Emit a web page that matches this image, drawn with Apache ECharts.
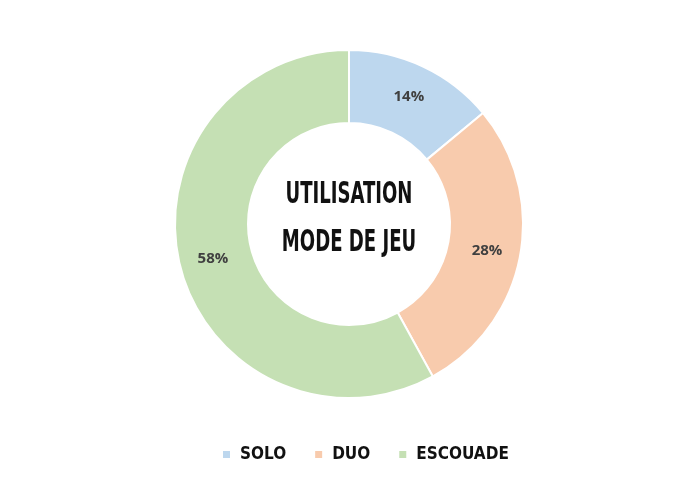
<!DOCTYPE html>
<html>
<head>
<meta charset="utf-8">
<script src="https://cdn.jsdelivr.net/npm/echarts@6/dist/echarts.min.js"></script>
<style>
html,body{margin:0;padding:0;background:#fff;}
#c{width:700px;height:480px;}
</style>
</head>
<body>
<div id="c"></div>
<script>
const categories = ['SOLO', 'DUO', 'ESCOUADE'];
const values = [14, 28, 58];
const colors = ['#bdd7ee', '#f8cbad', '#c5e0b4'];
const centerLines = ['UTILISATION', 'MODE DE JEU'];

const narrow = '"Liberation Sans Narrow", "DejaVu Sans Condensed", sans-serif';
const chart = echarts.init(document.getElementById('c'));
chart.setOption({
  backgroundColor: '#fff',
  animation: false,
  color: colors,
  legend: {
    data: categories,
    bottom: 17,
    left: 221,
    padding: 0,
    icon: 'rect',
    itemWidth: 9,
    itemHeight: 9,
    itemGap: 27,
    textStyle: {
      fontFamily: narrow,
      fontWeight: 'bold',
      fontSize: 17,
      color: '#111',
      padding: [0, 0, 0, 4]
    }
  },
  graphic: [
    {
      type: 'text',
      x: 349, y: 195,
      scaleX: 0.67,
      style: {
        text: centerLines[0],
        fill: '#111',
        font: 'bold 30px ' + narrow,
        textAlign: 'center',
        textVerticalAlign: 'middle'
      }
    },
    {
      type: 'text',
      x: 349, y: 243,
      scaleX: 0.67,
      style: {
        text: centerLines[1],
        fill: '#111',
        font: 'bold 30px ' + narrow,
        textAlign: 'center',
        textVerticalAlign: 'middle'
      }
    }
  ],
  series: [{
    type: 'pie',
    center: [349, 224],
    radius: [101, 174],
    startAngle: 90,
    clockwise: true,
    avoidLabelOverlap: false,
    itemStyle: { borderColor: '#fff', borderWidth: 2 },
    label: {
      show: true,
      position: 'inside',
      formatter: '{c}%',
      color: '#404040',
      fontFamily: '"Open Sans", sans-serif',
      fontWeight: 'bold',
      fontSize: 15
    },
    labelLine: { show: false },
    emphasis: { disabled: true },
    data: categories.map((n, i) => ({ name: n, value: values[i] }))
  }]
});
</script>
</body>
</html>
